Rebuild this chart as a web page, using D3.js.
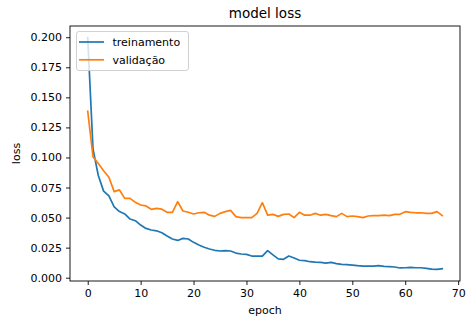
<!DOCTYPE html>
<html>
<head>
<meta charset="utf-8">
<script src="https://cdn.jsdelivr.net/npm/d3@7"></script>
<style>
  html, body { margin: 0; padding: 0; background: #fff; }
  svg { display: block; }
  text { font-family: "DejaVu Sans", sans-serif; fill: #000; }
</style>
</head>
<body>
<svg id="chart" width="467" height="321"></svg>
<script>
// Loss per epoch recorded during training
const trainLoss = [
  0.1997, 0.107, 0.085, 0.072, 0.068, 0.059, 0.055, 0.053, 0.0488, 0.0474,
  0.0438, 0.041, 0.0397, 0.039, 0.0374, 0.0347, 0.0322, 0.031, 0.0327, 0.0322,
  0.0294, 0.0272, 0.0253, 0.0239, 0.0228, 0.0222, 0.0225, 0.0222, 0.0205, 0.0197,
  0.0194, 0.018, 0.018, 0.018, 0.0225, 0.019, 0.0156, 0.0153, 0.018, 0.0164,
  0.0145, 0.0142, 0.0133, 0.013, 0.0128, 0.0122, 0.0128, 0.0117, 0.0111, 0.0108,
  0.0105, 0.010, 0.0097, 0.0097, 0.0097, 0.010, 0.0094, 0.0092, 0.0089, 0.0081,
  0.0083, 0.0086, 0.0083, 0.0083, 0.0078, 0.0072, 0.0069, 0.0075
];
const valLoss = [
  0.1385, 0.1005, 0.095, 0.089, 0.0835, 0.0716, 0.073, 0.066, 0.066, 0.0627,
  0.0605, 0.0597, 0.0569, 0.0577, 0.057, 0.0544, 0.0544, 0.0632, 0.0555, 0.0544,
  0.053, 0.054, 0.0544, 0.052, 0.051, 0.0535, 0.055, 0.056, 0.0508, 0.050,
  0.050, 0.050, 0.0535, 0.0624, 0.052, 0.0527, 0.051, 0.0527, 0.053, 0.050,
  0.0544, 0.052, 0.052, 0.0535, 0.052, 0.0527, 0.0516, 0.0508, 0.0535, 0.0508,
  0.0513, 0.0508, 0.050, 0.0513, 0.0516, 0.0516, 0.052, 0.0516, 0.0527, 0.0527,
  0.0549, 0.0544, 0.054, 0.054, 0.0535, 0.0535, 0.055, 0.0516
];
const seriesNames = ["treinamento", "validação"];
const seriesColors = ["#1f77b4", "#ff7f0e"];
const xTicks = [0, 10, 20, 30, 40, 50, 60, 70];
const yTicks = [0.000, 0.025, 0.050, 0.075, 0.100, 0.125, 0.150, 0.175, 0.200];
const titleText = "model loss";
const xLabelText = "epoch";
const yLabelText = "loss";

const svg = d3.select("#chart");
const plot = { left: 70, right: 460, top: 26, bottom: 281 };
const fontSize = 11;

// Matplotlib-style 5% padding around the data extent
const epochs = trainLoss.map((_, i) => i);
const xMin = 0, xMax = epochs.length - 1;
const xPad = (xMax - xMin) * 0.05;
const allVals = trainLoss.concat(valLoss);
const yLo = d3.min(allVals), yHi = d3.max(allVals);
const yPad = (yHi - yLo) * 0.05;

const x = d3.scaleLinear().domain([xMin - xPad, xMax + xPad]).range([plot.left, plot.right]);
const y = d3.scaleLinear().domain([yLo - yPad, yHi + yPad]).range([plot.bottom, plot.top]);

// Lines
const line = d3.line().x((d, i) => x(i)).y(d => y(d));
[trainLoss, valLoss].forEach((s, k) => {
  svg.append("path")
    .datum(s)
    .attr("d", line)
    .attr("fill", "none")
    .attr("stroke", seriesColors[k])
    .attr("stroke-width", 1.7)
    .attr("stroke-linejoin", "round")
    .attr("stroke-linecap", "square");
});

// Axes
const xAxis = d3.axisBottom(x).tickValues(xTicks).tickSize(4).tickPadding(4).tickFormat(d3.format("d"));
const yAxis = d3.axisLeft(y).tickValues(yTicks).tickSize(4).tickPadding(4).tickFormat(d3.format(".3f"));

const gx = svg.append("g").attr("transform", `translate(0,${plot.bottom})`).call(xAxis);
const gy = svg.append("g").attr("transform", `translate(${plot.left},0)`).call(yAxis);
[gx, gy].forEach(g => {
  g.select(".domain").remove();
  g.selectAll(".tick line").attr("stroke", "#000").attr("stroke-width", 0.9);
  g.selectAll(".tick text").attr("font-size", fontSize).attr("font-family", "DejaVu Sans").attr("fill", "#000");
});

// Frame
svg.append("rect")
  .attr("x", plot.left).attr("y", plot.top)
  .attr("width", plot.right - plot.left).attr("height", plot.bottom - plot.top)
  .attr("fill", "none").attr("stroke", "#000").attr("stroke-width", 0.9);

// Title and axis labels
const cx = (plot.left + plot.right) / 2;
svg.append("text").attr("x", cx).attr("y", 18).attr("text-anchor", "middle")
  .attr("font-size", 13.5).text(titleText);
svg.append("text").attr("x", cx).attr("y", 314).attr("text-anchor", "middle")
  .attr("font-size", fontSize).text(xLabelText);
svg.append("text")
  .attr("transform", `translate(20,${(plot.top + plot.bottom) / 2}) rotate(-90)`)
  .attr("text-anchor", "middle").attr("font-size", fontSize).text(yLabelText);

// Legend
const legend = svg.append("g").attr("transform", "translate(76,31)");
legend.append("rect")
  .attr("x", 0.5).attr("y", 0.5).attr("width", 112).attr("height", 39)
  .attr("rx", 2.5).attr("ry", 2.5)
  .attr("fill", "#fff").attr("fill-opacity", 0.8)
  .attr("stroke", "#ccc").attr("stroke-width", 0.9);
seriesNames.forEach((name, k) => {
  const ly = 11 + k * 17.8;
  legend.append("line")
    .attr("x1", 3).attr("x2", 28).attr("y1", ly).attr("y2", ly)
    .attr("stroke", seriesColors[k]).attr("stroke-width", 1.7);
  legend.append("text")
    .attr("x", 36.5).attr("y", ly + 4)
    .attr("font-size", fontSize).text(name);
});
</script>
</body>
</html>
